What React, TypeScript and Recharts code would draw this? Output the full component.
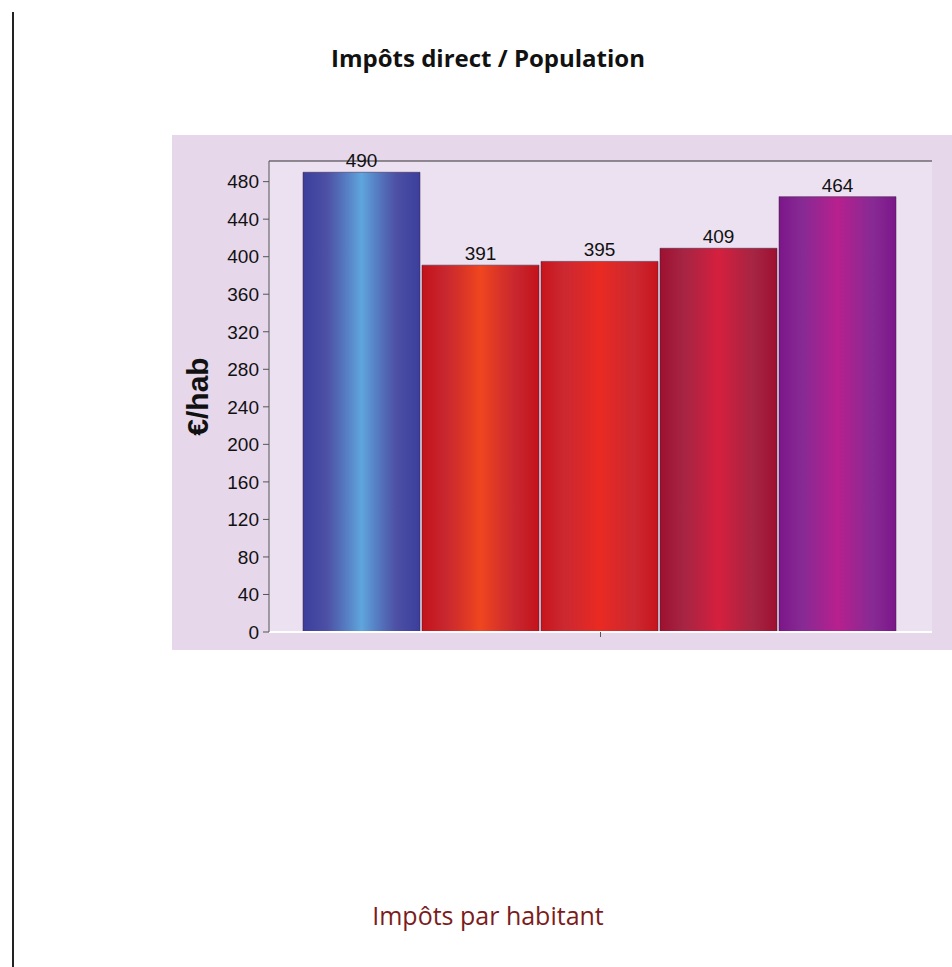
import React from 'react';
import {
  BarChart,
  Bar,
  XAxis,
  YAxis,
  CartesianGrid,
  LabelList,
  ReferenceLine,
} from 'recharts';

const categories = ['Impôts par habitant'];
const seriesNames = ['s1', 's2', 's3', 's4', 's5'];
const seriesValues = [490, 391, 395, 409, 464];
const yTicks = [0, 40, 80, 120, 160, 200, 240, 280, 320, 360, 400, 440, 480];

// edge / centre colours for the striped horizontal gradients
const gradients = [
  { id: 'g1', edge: '#3b3f9c', mid: '#5fa6dd' },
  { id: 'g2', edge: '#c4121a', mid: '#f0461f' },
  { id: 'g3', edge: '#c8141c', mid: '#ea2a22' },
  { id: 'g4', edge: '#9e1030', mid: '#d5203e' },
  { id: 'g5', edge: '#7c168a', mid: '#b8208e' },
];

const data = categories.map((c) => {
  const row: Record<string, string | number> = { name: c };
  seriesNames.forEach((s, i) => {
    row[s] = seriesValues[i];
  });
  return row;
});

const font = '"Liberation Sans", Arial, sans-serif';

export default function App() {
  return (
    <div
      style={{
        position: 'absolute',
        left: 0,
        top: 0,
        width: 952,
        height: 967,
        background: '#fff',
        overflow: 'hidden',
      }}
    >
      {/* page margin line */}
      <div
        style={{
          position: 'absolute',
          left: 12,
          top: 12,
          width: 2,
          height: 955,
          background: '#222',
        }}
      />
      <div
        style={{
          position: 'absolute',
          left: 0,
          width: 976,
          top: 41,
          textAlign: 'center',
          fontFamily: '"Open Sans", sans-serif',
          fontWeight: 700,
          fontSize: 24,
          color: '#111',
        }}
      >
        Impôts direct / Population
      </div>

      <div
        style={{
          position: 'absolute',
          left: 172,
          top: 135,
          width: 780,
          height: 515,
          background: '#e6d7eb',
        }}
      >
        <BarChart
          width={780}
          height={515}
          data={data}
          margin={{ top: 26, right: 20, bottom: 0, left: 0 }}
          barCategoryGap={34}
          barGap={2}
        >
          <defs>
            {gradients.map((g) => (
              <linearGradient key={g.id} id={g.id} x1="0" y1="0" x2="1" y2="0">
                <stop offset="0%" stopColor={g.edge} />
                <stop offset="20%" stopColor={g.edge} stopOpacity={0.9} />
                <stop offset="50%" stopColor={g.mid} />
                <stop offset="80%" stopColor={g.edge} stopOpacity={0.9} />
                <stop offset="100%" stopColor={g.edge} />
              </linearGradient>
            ))}
          </defs>
          <CartesianGrid fill="#ece1f0" horizontal={false} vertical={false} />
          <XAxis
            dataKey="name"
            height={18}
            axisLine={{ stroke: '#ffffff', strokeWidth: 2 }}
            tickLine={{ stroke: '#555' }}
            tickSize={5}
            tickFormatter={() => ''}
          />
          <YAxis
            width={97}
            domain={[0, 502]}
            ticks={yTicks}
            interval={0}
            axisLine={{ stroke: '#555' }}
            tickLine={{ stroke: '#555' }}
            tickSize={6}
            tickMargin={4}
            tick={{ fill: '#111', fontSize: 19, fontFamily: font }}
            label={{
              content: (props: any) => {
                const vb = props.viewBox;
                const cx = 25;
                const cy = vb.y + vb.height / 2;
                return (
                  <text
                    x={cx}
                    y={cy}
                    transform={`rotate(-90, ${cx}, ${cy})`}
                    textAnchor="middle"
                    dominantBaseline="central"
                    fontFamily={font}
                    fontWeight={700}
                    fontSize={30}
                    fill="#111"
                  >
                    €/hab
                  </text>
                );
              },
            }}
          />
          <ReferenceLine y={502} stroke="#333" strokeWidth={1} />
          {seriesNames.map((s, i) => (
            <Bar
              key={s}
              dataKey={s}
              fill={`url(#${gradients[i].id})`}
              stroke="#3a2040"
              strokeOpacity={0.5}
              isAnimationActive={false}
            >
              <LabelList
                dataKey={s}
                position="top"
                offset={5}
                fill="#111"
                fontSize={19}
                fontFamily={font}
              />
            </Bar>
          ))}
        </BarChart>
      </div>

      <div
        style={{
          position: 'absolute',
          left: 0,
          width: 976,
          top: 898,
          textAlign: 'center',
          fontFamily: '"Open Sans", sans-serif',
          fontSize: 25,
          color: '#7b1c1c',
        }}
      >
        Impôts par habitant
      </div>
    </div>
  );
}
